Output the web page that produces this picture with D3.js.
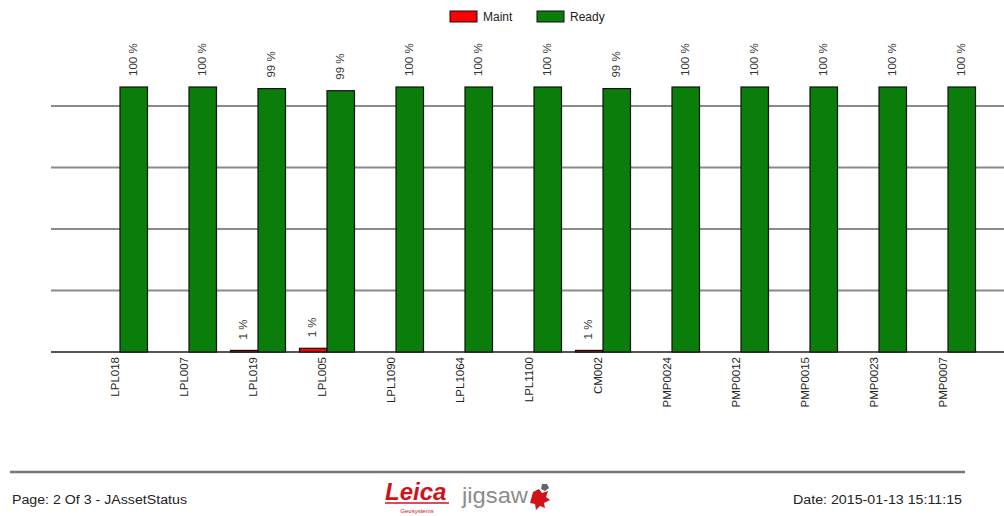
<!DOCTYPE html>
<html>
<head>
<meta charset="utf-8">
<script src="https://cdn.jsdelivr.net/npm/d3@7"></script>
<style>
  body { margin: 0; background: #fff; }
  text { font-family: "Liberation Sans", Arial, sans-serif; }
</style>
</head>
<body>
<div id="main"></div>
<script>
// chart data
var assets = ["LPL018", "LPL007", "LPL019", "LPL005", "LPL1090", "LPL1064", "LPL1100",
              "CM002", "PMP0024", "PMP0012", "PMP0015", "PMP0023", "PMP0007"];
var maint = [0, 0, 0.6, 1.4, 0, 0, 0, 0.6, 0, 0, 0, 0, 0];
var ready = [100, 100, 99.4, 98.6, 100, 100, 100, 99.4, 100, 100, 100, 100, 100];
var gridValues = [0, 23.2, 46.4, 69.6, 92.8];
var seriesNames = ["Maint", "Ready"];
var seriesColors = ["#ff0000", "#0b7d0b"];
var footerLeft = "Page: 2 Of 3 - JAssetStatus";
var footerRight = "Date: 2015-01-13 15:11:15";

var ctx = { w: 1004, h: 516 };

var createViz = function () {
    var svg = d3.select("#main").append("svg")
        .attr("width", ctx.w)
        .attr("height", ctx.h);

    var x = d3.scalePoint().domain(assets).range([51, 1017]).padding(1);
    var y = d3.scaleLinear().domain([0, 100]).range([352, 87]);
    var barW = 27.5;

    // gridlines
    svg.append("g")
        .selectAll("line")
        .data(gridValues)
        .enter()
        .append("line")
        .attr("x1", 51)
        .attr("x2", ctx.w)
        .attr("y1", d => y(d))
        .attr("y2", d => y(d))
        .attr("stroke", d => d === 0 ? "#555" : "#8a8a8a")
        .attr("stroke-width", 2);

    var rows = assets.map((a, i) => ({ name: a, vals: [maint[i], ready[i]] }));

    var groups = svg.append("g")
        .selectAll("g")
        .data(rows)
        .enter()
        .append("g")
        .attr("transform", d => "translate(" + x(d.name) + ",0)");

    groups.selectAll("rect")
        .data(d => d.vals.map((v, k) => ({ v: v, k: k })))
        .enter()
        .append("rect")
        .attr("x", d => d.k === 0 ? -barW : 0)
        .attr("width", barW)
        .attr("y", d => y(d.v))
        .attr("height", d => y(0) - y(d.v))
        .attr("fill", d => seriesColors[d.k])
        .attr("stroke", "#111")
        .attr("stroke-width", d => d.v > 0 ? 1.2 : 0);

    // value labels
    groups.selectAll("text.val")
        .data(d => d.vals.map((v, k) => ({ v: v, k: k })).filter(e => e.v > 0))
        .enter()
        .append("text")
        .attr("class", "val")
        .attr("transform", d => "translate(" + ((d.k === 0 ? -barW / 2 : barW / 2) - 1) + "," + (y(d.v) - 11) + ") rotate(-90)")
        .attr("dy", "0.35em")
        .attr("text-anchor", "start")
        .attr("font-size", 11.5)
        .attr("fill", "#333")
        .text(d => Math.round(d.v) + " %");

    // category labels
    groups.append("text")
        .attr("transform", "translate(-5,357) rotate(-90)")
        .attr("dy", "0.35em")
        .attr("text-anchor", "end")
        .attr("font-size", 11.5)
        .attr("fill", "#222")
        .text(d => d.name);

    // legend
    var legX = [450, 537];
    var leg = svg.append("g")
        .selectAll("g")
        .data(seriesNames)
        .enter()
        .append("g")
        .attr("transform", (d, i) => "translate(" + legX[i] + ",11)");
    leg.append("rect")
        .attr("width", 27)
        .attr("height", 11)
        .attr("fill", (d, i) => seriesColors[i])
        .attr("stroke", "#111");
    leg.append("text")
        .attr("x", 33)
        .attr("y", 6)
        .attr("dy", "0.35em")
        .attr("font-size", 12)
        .attr("fill", "#222")
        .text(d => d);

    // footer
    svg.append("line")
        .attr("x1", 10).attr("x2", 965)
        .attr("y1", 472).attr("y2", 472)
        .attr("stroke", "#777").attr("stroke-width", 2.5);
    svg.append("text")
        .attr("x", 12).attr("y", 504)
        .attr("font-size", 12).attr("fill", "#222")
        .attr("textLength", 175).attr("lengthAdjust", "spacingAndGlyphs")
        .text(footerLeft);
    svg.append("text")
        .attr("x", 793).attr("y", 504)
        .attr("font-size", 12).attr("fill", "#222")
        .attr("textLength", 169).attr("lengthAdjust", "spacingAndGlyphs")
        .text(footerRight);

    // logo
    svg.append("text")
        .attr("x", 385).attr("y", 500)
        .attr("font-family", "'Liberation Serif', serif")
        .attr("font-style", "italic").attr("font-weight", "bold")
        .attr("font-size", 24).attr("fill", "#d0121b")
        .text("Leica");
    svg.append("line")
        .attr("x1", 385).attr("x2", 449)
        .attr("y1", 503).attr("y2", 503)
        .attr("stroke", "#d0121b").attr("stroke-width", 1.5);
    svg.append("text")
        .attr("x", 417).attr("y", 513)
        .attr("text-anchor", "middle")
        .attr("font-size", 6).attr("fill", "#d0121b")
        .text("Geosystems");
    svg.append("text")
        .attr("x", 462).attr("y", 503)
        .attr("font-size", 22).attr("fill", "#8c8c8c")
        .attr("font-family", "'Open Sans', sans-serif")
        .attr("textLength", 66).attr("lengthAdjust", "spacingAndGlyphs")
        .text("jigsaw");
    svg.append("path")
        .attr("d", "M533,492 l6,-3 l3,4 l6,-2 l-2,6 l4,3 l-6,3 l1,5 l-5,-2 l-4,4 l-1,-6 l-5,-1 z")
        .attr("fill", "#d0121b");
    svg.append("path")
        .attr("d", "M542,484 l5,0 l2,4 l-4,3 l-4,-2 z")
        .attr("fill", "#666");
};

createViz();
</script>
</body>
</html>
